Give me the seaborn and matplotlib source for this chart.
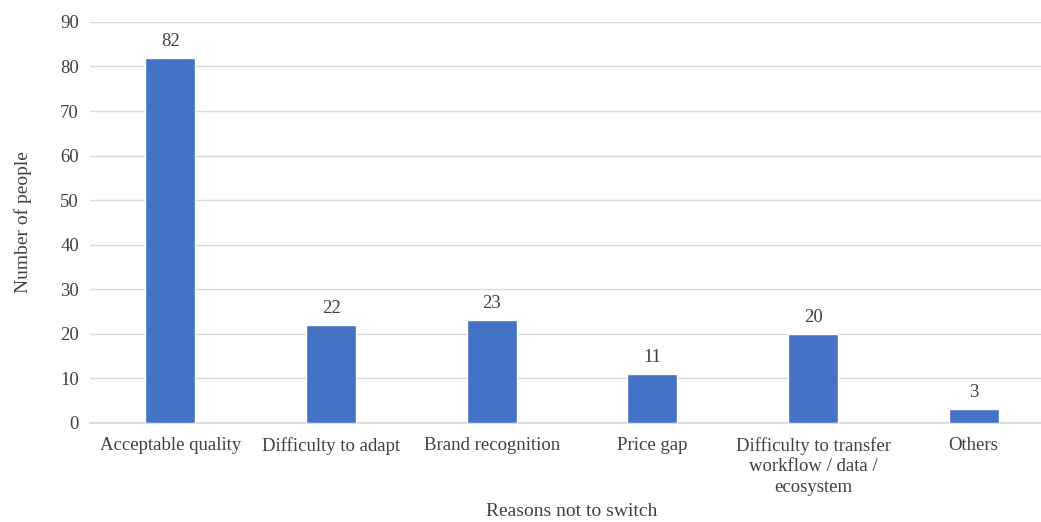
import matplotlib
matplotlib.use("Agg")
import matplotlib.pyplot as plt
import seaborn as sns
import pandas as pd

reasons = [
    "Acceptable quality",
    "Difficulty to adapt",
    "Brand recognition",
    "Price gap",
    "Difficulty to transfer\nworkflow / data /\necosystem",
    "Others",
]
counts = [82, 22, 23, 11, 20, 3]
y_ticks = [0, 10, 20, 30, 40, 50, 60, 70, 80, 90]

sns.set_theme(style="white")
plt.rcParams["font.family"] = ["Liberation Serif", "DejaVu Serif"]
text_color = "#404040"

df = pd.DataFrame({"reason": reasons, "count": counts})

fig = plt.figure(figsize=(10.41, 5.22), dpi=100)
ax = fig.add_axes([0.0865, 0.19, 0.926, 0.768])

sns.barplot(data=df, x="reason", y="count", color="#4472C4", saturation=1,
            width=0.31, ax=ax, zorder=3)

for i, v in enumerate(counts):
    ax.text(i, v + 1.8, str(v), ha="center", va="bottom", fontsize=13.5,
            color=text_color)

ax.set_ylim(0, 90)
ax.set_yticks(y_ticks)
ax.set_xlim(-0.5, len(reasons) - 0.5)
ax.yaxis.grid(True, color="#d9d9d9", linewidth=1, zorder=0)
for s in ["top", "right", "left"]:
    ax.spines[s].set_visible(False)
ax.spines["bottom"].set_color("#d9d9d9")
ax.tick_params(axis="both", length=0, labelsize=13.5, labelcolor=text_color)
ax.tick_params(axis="x", pad=10)
ax.tick_params(axis="y", pad=8)
for lbl in ax.get_xticklabels():
    lbl.set_linespacing(1.3)

ax.set_xlabel("Reasons not to switch", fontsize=14, color=text_color, labelpad=5)
ax.set_ylabel("Number of people", fontsize=14, color=text_color, labelpad=20)

fig.savefig("out.png", dpi=100, facecolor="white")
